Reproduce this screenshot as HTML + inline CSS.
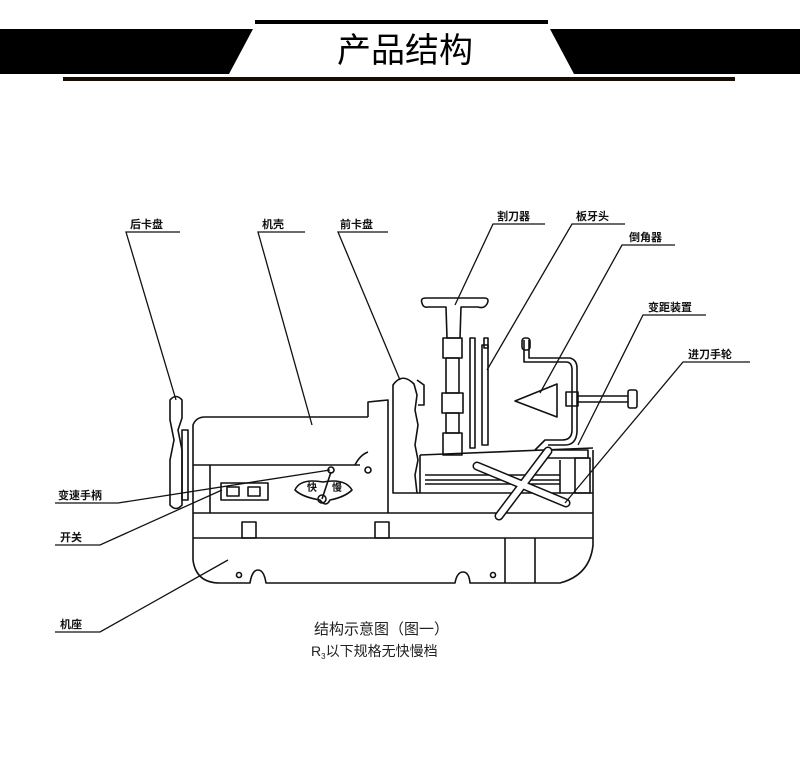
<!DOCTYPE html>
<html><head><meta charset="utf-8"><style>
html,body{margin:0;padding:0;background:#fff;}
body{width:800px;height:761px;overflow:hidden;}
svg{display:block;}
text{font-family:"Liberation Sans","Noto Sans CJK SC",sans-serif;}
</style></head><body>
<svg width="800" height="761" viewBox="0 0 800 761" xmlns="http://www.w3.org/2000/svg">
<!-- header -->
<polygon points="0,29 253,29 229,74 0,74" fill="#000"/>
<polygon points="550,29 800,29 800,74 574,74" fill="#000"/>
<rect x="255" y="20" width="293" height="4" fill="#000"/>
<rect x="63" y="77" width="672" height="4" fill="#1a0a05"/>
<text x="405" y="62" font-size="34" text-anchor="middle" fill="#000">产品结构</text>

<g fill="none" stroke="#111" stroke-width="1.6" stroke-linejoin="round">
<!-- base -->
<path d="M193,513 L193,560 Q196,583 220,583 L250,583 Q252,570 258,570 Q264,570 266,583 L455,583 Q457,572 463,572 Q469,572 470,583 L560,583 Q590,575 593,545 L593,450"/>
<line x1="193" y1="538" x2="593" y2="538"/>
<line x1="193" y1="513" x2="593" y2="513"/>
<line x1="505" y1="538" x2="505" y2="583"/>
<line x1="535" y1="538" x2="535" y2="583"/>
<rect x="242" y="522" width="14" height="16"/>
<rect x="375" y="522" width="14" height="16"/>
<circle cx="239" cy="575" r="2.5"/>
<circle cx="493" cy="575" r="2.5"/>
<!-- housing -->
<path d="M193,465 L193,425 Q196,417 205,417 L368,417"/>
<line x1="193" y1="465" x2="360" y2="465"/>
<path d="M368,417 L368,402 L388,400 L388,513"/>
<path d="M355,465 Q360,455 368,452"/>
<circle cx="368" cy="470" r="3"/>
<line x1="193" y1="465" x2="193" y2="513"/>
<line x1="210" y1="465" x2="210" y2="513"/>
<!-- switch box -->
<rect x="221" y="483" width="47" height="17"/>
<rect x="227" y="487" width="12" height="9"/>
<rect x="248" y="487" width="12" height="9"/>
<!-- speed plate -->
<path d="M295,490 Q300,478 323,482 Q345,478 352,490 Q345,497 330,500 Q326,508 320,500 Q302,497 295,490 Z"/>
<circle cx="322" cy="499" r="4"/>
<line x1="322" y1="499" x2="331" y2="472"/>
<circle cx="331" cy="470" r="3"/>
<!-- rear chuck -->
<path d="M170,400 Q176,393 182,400 L182,418 L178,430 L182,450 L182,505 Q176,512 170,505 L170,460 L174,440 L170,420 Z"/>
<rect x="182" y="430" width="6" height="70"/>
<!-- front chuck -->
<path d="M393,493 L393,385 Q402,372 414,384 L417,395 L415,410 L418,425 L415,445 L418,460 L415,475 L417,493 Z"/>
<path d="M417,380 L424,385 L424,405 L418,405"/>
<!-- carriage -->
<line x1="417" y1="493" x2="593" y2="493"/>
<path d="M420,455 L593,448"/>
<line x1="420" y1="455" x2="420" y2="493"/>
<line x1="425" y1="475" x2="560" y2="475"/>
<line x1="425" y1="480" x2="560" y2="480"/>
<line x1="425" y1="484" x2="560" y2="484"/>
<line x1="560" y1="460" x2="560" y2="493"/>
<rect x="575" y="458" width="15" height="35"/>
<rect x="548" y="450" width="40" height="8"/>
<!-- cutter T handle -->
<path d="M422,303 Q420,298 426,298 L484,298 Q490,298 487,304 Q484,309 478,307 L461,307 L460,338 L447,338 L446,307 L428,307 Q423,308 422,303 Z"/>
<rect x="443" y="338" width="19" height="20"/>
<rect x="446" y="358" width="13" height="35"/>
<rect x="442" y="393" width="21" height="20"/>
<rect x="446" y="413" width="13" height="20"/>
<rect x="443" y="433" width="19" height="22"/>
<rect x="470" y="338" width="5" height="110"/>
<rect x="482" y="345" width="6" height="100"/>
<rect x="484" y="338" width="4" height="10"/>
<!-- die head triangle & chamfer -->
<polygon points="515,401 557,384 557,417"/>
<path d="M524,340 L524,362 L566,362 Q572,362 572,370 L572,430 Q572,440 562,440 L545,440 L535,450"/>
<path d="M529,340 L529,358 L570,358 Q577,360 577,368 L577,432 Q576,445 565,445 L548,445"/>
<rect x="522" y="338" width="8" height="12" rx="3"/>
<rect x="566" y="392" width="12" height="14"/>
<line x1="578" y1="396" x2="628" y2="396"/>
<line x1="578" y1="402" x2="628" y2="402"/>
<rect x="628" y="390" width="9" height="18" rx="2"/>
</g>
<!-- handwheel X -->
<g stroke-linecap="round">
<line x1="477" y1="466" x2="566" y2="503" stroke="#111" stroke-width="9"/>
<line x1="499" y1="516" x2="548" y2="451" stroke="#111" stroke-width="9"/>
<line x1="477" y1="466" x2="566" y2="503" stroke="#fff" stroke-width="6"/>
<line x1="499" y1="516" x2="548" y2="451" stroke="#fff" stroke-width="6"/>
</g>

<!-- leaders -->
<g stroke="#111" stroke-width="1.3" fill="none">
<polyline points="180,232 126,232 176,400"/>
<polyline points="305,232 258,232 312,425"/>
<polyline points="388,232 338,232 400,380"/>
<polyline points="545,224 493,224 455,305"/>
<polyline points="625,224 572,224 487,370"/>
<polyline points="675,245 622,245 540,393"/>
<polyline points="706,315 643,315 578,445"/>
<polyline points="750,362 683,362 565,503"/>
<polyline points="55,503 118,503 330,470"/>
<polyline points="55,545 100,545 222,490"/>
<polyline points="55,632 100,632 228,560"/>
</g>

<g font-size="11" font-weight="bold" fill="#111">
<text x="130" y="228">后卡盘</text>
<text x="262" y="228">机壳</text>
<text x="340" y="228">前卡盘</text>
<text x="497" y="220">割刀器</text>
<text x="576" y="220">板牙头</text>
<text x="629" y="241">倒角器</text>
<text x="648" y="311">变距装置</text>
<text x="688" y="358">进刀手轮</text>
<text x="58" y="499">变速手柄</text>
<text x="60" y="541">开关</text>
<text x="60" y="628">机座</text>
<text x="307" y="491" font-size="10">快</text>
<text x="332" y="491" font-size="10">慢</text>
</g>
<text x="314" y="634" font-size="15" fill="#222">结构示意图（图一）</text>
<text x="311" y="656" font-size="14" fill="#222">R<tspan font-size="8" dy="3">3</tspan><tspan dy="-3">以下规格无快慢档</tspan></text>
</svg>
</body></html>
